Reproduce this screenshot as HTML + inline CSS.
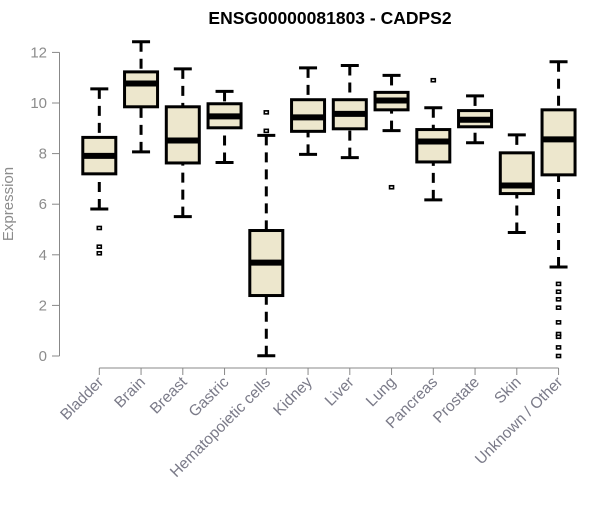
<!DOCTYPE html>
<html><head><meta charset="utf-8"><style>
body{margin:0;background:#fff}
svg text{font-family:"Liberation Sans",Arial,sans-serif}
</style></head><body>
<svg id="chart" width="600" height="500" xmlns="http://www.w3.org/2000/svg">
<text x="330" y="24" text-anchor="middle" font-size="17.5" font-weight="bold">ENSG00000081803 - CADPS2</text>
<text transform="translate(13,204) rotate(-90)" text-anchor="middle" font-size="15" fill="#8c8c8c">Expression</text>
<g id="plot"></g>
</svg>
<script>
const categories=["Bladder","Brain","Breast","Gastric","Hematopoietic cells","Kidney","Liver","Lung","Pancreas","Prostate","Skin","Unknown / Other"];
const whiskerLow=[5.81,8.07,5.51,7.65,0.01,7.97,7.84,8.91,6.17,8.43,4.88,3.52];
const q1=[7.2,9.85,7.63,9.02,2.39,8.88,8.98,9.73,7.67,9.06,6.42,7.16];
const medians=[7.91,10.77,8.52,9.47,3.69,9.43,9.57,10.1,8.48,9.34,6.74,8.56];
const q3=[8.64,11.23,9.85,9.97,4.96,10.13,10.13,10.42,8.95,9.7,8.03,9.73];
const whiskerHigh=[10.56,12.42,11.35,10.46,8.72,11.39,11.48,11.09,9.81,10.28,8.74,11.63];
const outliers=[[5.06,4.32,4.06],[],[],[],[9.63,8.9],[],[],[6.67],[10.9],[],[],[2.85,2.54,2.24,1.91,1.33,0.87,0.76,0.34,0.0]];
const yTicks=[0,2,4,6,8,10,12];

const NS="http://www.w3.org/2000/svg";
const g=document.getElementById('plot');
const y=v=>356-v*25.3;
const x=i=>99.3+i*41.75;
function mk(tag,attrs,parent){const e=document.createElementNS(NS,tag);for(const k in attrs)e.setAttribute(k,attrs[k]);(parent||g).appendChild(e);return e;}
const ya=mk('line',{x1:59.5,x2:59.5,y1:y(12),y2:y(0),stroke:'#888','stroke-width':1});


yTicks.forEach(t=>{
  const tl=mk('line',{x1:52,x2:59.5,y1:y(t),y2:y(t),stroke:'#888'});
  
  
  const tx=mk('text',{x:47,y:y(t)+5,'text-anchor':'end','font-size':15,fill:'#8c8c8c'});
  tx.textContent=t;
  
  
});
const xa=mk('line',{x1:x(0),x2:x(categories.length-1),y1:368,y2:368,stroke:'#888'});


categories.forEach((c,i)=>{
  const cx=x(i);
  const tl=mk('line',{x1:cx,x2:cx,y1:368,y2:375,stroke:'#888'});
  
  
  const tx=mk('text',{transform:`translate(${cx+5},383) rotate(-45)`,'text-anchor':'end','font-size':15.5,fill:'#7a7a88'});
  tx.textContent=c;
  
  
  const grp=mk('g',{});
  
  
  mk('line',{x1:cx,x2:cx,y1:y(whiskerHigh[i]),y2:y(q3[i]),stroke:'#000','stroke-width':3,'stroke-dasharray':'10,7'},grp);
  mk('line',{x1:cx,x2:cx,y1:y(whiskerLow[i]),y2:y(q1[i]),stroke:'#000','stroke-width':3,'stroke-dasharray':'10,7'},grp);
  mk('line',{x1:cx-9,x2:cx+9,y1:y(whiskerHigh[i]),y2:y(whiskerHigh[i]),stroke:'#000','stroke-width':3},grp);
  mk('line',{x1:cx-9,x2:cx+9,y1:y(whiskerLow[i]),y2:y(whiskerLow[i]),stroke:'#000','stroke-width':3},grp);
  mk('rect',{x:cx-16.5,y:y(q3[i]),width:33,height:y(q1[i])-y(q3[i]),fill:'#ede7cd',stroke:'#000','stroke-width':3},grp);
  mk('line',{x1:cx-16.5,x2:cx+16.5,y1:y(medians[i]),y2:y(medians[i]),stroke:'#000','stroke-width':6},grp);
  outliers[i].forEach(o=>{
    const p=mk('rect',{x:cx-2,y:y(o)-1.5,width:4,height:3,fill:'#fff',stroke:'#000','stroke-width':1.6},grp);
    
    
  });
});
</script>
</body></html>
